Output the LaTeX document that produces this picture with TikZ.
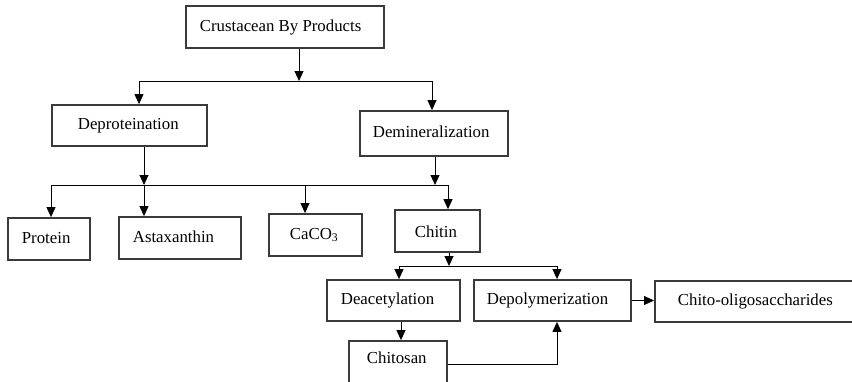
\documentclass[tikz,border=0pt]{standalone}
\usepackage{fontspec}
\setmainfont{Liberation Serif}
\usetikzlibrary{arrows.meta}
\definecolor{boxc}{HTML}{3A3A3A}
\newcommand\bxt[2]{\makebox[#1][l]{#2}}
\tikzset{
  box/.style={draw=boxc, line width=1.8pt, fill=white, anchor=west,
    inner ysep=0pt, text height=12pt, text depth=4pt,
    font=\fontsize{16.8}{20}\selectfont},
  ln/.style={line width=0.9pt, black},
  arr/.style={ln, -{Triangle[length=10pt,width=9pt]}}
}
\begin{document}
\begin{tikzpicture}[x=1pt,y=-1pt]
\useasboundingbox (0,0) rectangle (852,381);
\clip (0,0) rectangle (852,381);
\fill[white] (0,0) rectangle (852,381);
% boxes
\node[box, inner xsep=14pt, minimum height=42pt] (top) at (185,27) {\bxt{170pt}{Crustacean By Products}};
\node[box, inner xsep=26pt, minimum height=41pt] (dep) at (51,125.5) {\bxt{103pt}{Deproteination}};
\node[box, inner xsep=13pt, minimum height=45pt] (dem) at (359,133.5) {\bxt{122pt}{Demineralization}};
\node[box, inner xsep=14pt, minimum height=42pt] (protein) at (7,239) {\bxt{54pt}{Protein}};
\node[box, inner xsep=14pt, minimum height=42pt] (asta) at (118,238) {\bxt{94pt}{Astaxanthin}};
\node[box, inner xsep=21pt, minimum height=42pt] (caco) at (268,235) {\bxt{51pt}{CaCO\textsubscript{3}}};
\node[box, inner xsep=20pt, minimum height=42pt, text height=14pt, text depth=2pt] (chitin) at (394,231) {\bxt{45pt}{Chitin}};
\node[box, inner xsep=14pt, minimum height=41pt] (deac) at (326,300.5) {\bxt{105pt}{Deacetylation}};
\node[box, inner xsep=13pt, minimum height=41pt] (depoly) at (473,300.5) {\bxt{131pt}{Depolymerization}};
\node[box, inner xsep=23pt, minimum height=41pt] (chito) at (654,301.5) {\bxt{184pt}{Chito-oligosaccharides}};
\node[box, inner xsep=18pt, minimum height=57pt, text depth=24pt] (chitosan) at (348,369.5) {\bxt{62pt}{Chitosan}};
% junction coordinates
\coordinate (b1) at (299,81);
\coordinate (b1l) at (139,81);
\coordinate (b1r) at (432,81);
\coordinate (b2l) at (51,185);
\coordinate (b2a) at (144,185);
\coordinate (b2c) at (305,185);
\coordinate (b2d) at (435,185);
\coordinate (b2r) at (448,185);
\coordinate (b3l) at (399,266);
\coordinate (b3m) at (449,266);
\coordinate (b3r) at (557,266);
\coordinate (c4) at (401,330);
\coordinate (k) at (557,364);
% connectors
\draw[arr] (top.south -| b1) -- (b1);
\draw[ln] (b1l) -- (b1r);
\draw[arr] (b1l) -- (dep.north -| b1l);
\draw[arr] (b1r) -- (dem.north -| b1r);
\draw[arr] (dep.south -| b2a) -- (b2a);
\draw[arr] (dem.south -| b2d) -- (b2d);
\draw[ln] (b2l) -- (b2r);
\draw[arr] (b2l) -- (protein.north -| b2l);
\draw[arr] (b2a) -- (asta.north -| b2a);
\draw[arr] (b2c) -- (caco.north -| b2c);
\draw[arr] (b2r) -- (chitin.north -| b2r);
\draw[arr] (chitin.south -| b3m) -- (b3m);
\draw[ln] (b3l) -- (b3r);
\draw[arr] (b3l) -- (deac.north -| b3l);
\draw[arr] (b3r) -- (depoly.north -| b3r);
\draw[arr] (deac.south -| c4) -- (chitosan.north -| c4);
\draw[arr] (chitosan.east |- k) -- (k) -- (depoly.south -| k);
\draw[arr] (depoly.east) -- (depoly.east -| chito.west);
\end{tikzpicture}
\end{document}
